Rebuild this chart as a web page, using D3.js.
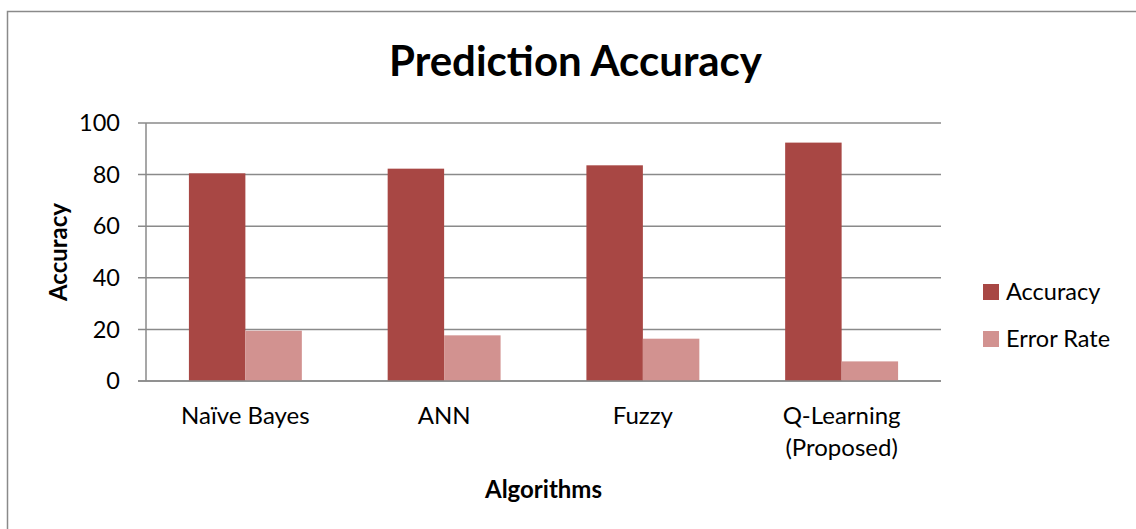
<!DOCTYPE html>
<html>
<head>
<meta charset="utf-8">
<script src="https://cdn.jsdelivr.net/npm/d3@7"></script>
<style>
  body { margin: 0; background: #fff; }
  text { font-family: Lato, "Open Sans", sans-serif; fill: #000; }
</style>
</head>
<body>
<div id="chart"></div>
<script>
// Chart data
const categories = ["Naïve Bayes", "ANN", "Fuzzy", "Q-Learning (Proposed)"];
const accuracy = [80.5, 82.3, 83.6, 92.4];
const errorRate = [19.5, 17.7, 16.4, 7.6];
const seriesNames = ["Accuracy", "Error Rate"];
const yTicks = [0, 20, 40, 60, 80, 100];

function drawChart() {
    const width = 1136, height = 529;
    const colors = ["#A84744", "#D29290"];

    const svg = d3.select("#chart")
        .append("svg")
        .attr("width", width)
        .attr("height", height);

    // Outer chart border (runs off the right/bottom edge)
    svg.append("rect")
        .attr("x", 7.5)
        .attr("y", 11.5)
        .attr("width", width + 20)
        .attr("height", height + 20)
        .attr("fill", "none")
        .attr("stroke", "#8a8a8a")
        .attr("stroke-width", 1.5);

    // Plot area
    const plot = {left: 146, right: 941, top: 123, bottom: 381};

    const x0 = d3.scaleBand()
        .domain(categories)
        .range([plot.left, plot.right]);

    const x1 = d3.scaleBand()
        .domain(seriesNames)
        .range([0, x0.bandwidth()])
        .paddingOuter(0.76)
        .paddingInner(0);

    const y = d3.scaleLinear()
        .domain([0, 100])
        .range([plot.bottom, plot.top]);

    // Gridlines
    svg.append("g")
        .selectAll("line")
        .data(yTicks)
        .join("line")
        .attr("x1", plot.left - 8)
        .attr("x2", plot.right)
        .attr("y1", d => y(d))
        .attr("y2", d => y(d))
        .attr("stroke", "#8a8a8a")
        .attr("stroke-width", 1.5);

    // Y axis line
    svg.append("line")
        .attr("x1", plot.left)
        .attr("x2", plot.left)
        .attr("y1", plot.top)
        .attr("y2", plot.bottom)
        .attr("stroke", "#8a8a8a")
        .attr("stroke-width", 1.5);

    // Y tick labels
    svg.append("g")
        .selectAll("text")
        .data(yTicks)
        .join("text")
        .attr("x", 120)
        .attr("y", d => y(d))
        .attr("dy", "0.35em")
        .attr("text-anchor", "end")
        .style("font-size", "23.5px")
        .text(d => d);

    // Bars
    const table = categories.map((c, i) => ({cat: c, values: [accuracy[i], errorRate[i]]}));

    const groups = svg.append("g")
        .selectAll("g")
        .data(table)
        .join("g")
        .attr("transform", d => `translate(${x0(d.cat)},0)`);

    groups.selectAll("rect")
        .data(d => d.values.map((v, j) => ({name: seriesNames[j], value: v, j: j})))
        .join("rect")
        .attr("x", d => x1(d.name))
        .attr("y", d => y(d.value))
        .attr("width", x1.bandwidth())
        .attr("height", d => y(0) - y(d.value))
        .attr("fill", d => colors[d.j]);

    // redraw baseline above bars
    svg.append("line")
        .attr("x1", plot.left - 8)
        .attr("x2", plot.right)
        .attr("y1", y(0))
        .attr("y2", y(0))
        .attr("stroke", "#8a8a8a")
        .attr("stroke-width", 1.5);

    // Category labels (wrap "Q-Learning (Proposed)")
    const labels = svg.append("g")
        .selectAll("text")
        .data(categories)
        .join("text")
        .attr("x", d => x0(d) + x0.bandwidth() / 2)
        .attr("y", 424)
        .attr("text-anchor", "middle")
        .style("font-size", "24px");

    labels.each(function(d) {
        const parts = d.startsWith("Q-Learning") ? ["Q-Learning", "(Proposed)"] : [d];
        const t = d3.select(this);
        parts.forEach((p, k) => {
            t.append("tspan")
                .attr("x", x0(d) + x0.bandwidth() / 2)
                .attr("dy", k === 0 ? 0 : 32)
                .text(p);
        });
    });

    // Title
    svg.append("text")
        .attr("x", (plot.left + plot.right) / 2 + 32)
        .attr("y", 76)
        .attr("text-anchor", "middle")
        .style("font-size", "42px")
        .style("font-weight", "bold")
        .text("Prediction Accuracy");

    // Axis titles
    svg.append("text")
        .attr("x", (plot.left + plot.right) / 2)
        .attr("y", 498)
        .attr("text-anchor", "middle")
        .style("font-size", "24px")
        .style("font-weight", "bold")
        .text("Algorithms");

    svg.append("text")
        .attr("transform", `translate(67,${(plot.top + plot.bottom) / 2}) rotate(-90)`)
        .attr("text-anchor", "middle")
        .style("font-size", "24px")
        .style("font-weight", "bold")
        .text("Accuracy");

    // Legend
    const legend = svg.append("g")
        .attr("transform", "translate(983,284)");

    seriesNames.forEach((name, i) => {
        legend.append("rect")
            .attr("x", 0)
            .attr("y", i * 47)
            .attr("width", 16)
            .attr("height", 16)
            .attr("fill", colors[i]);
        legend.append("text")
            .attr("x", 23)
            .attr("y", i * 47 + 8)
            .attr("dy", "0.35em")
            .style("font-size", "23.5px")
            .text(name);
    });
}

drawChart();
</script>
</body>
</html>
